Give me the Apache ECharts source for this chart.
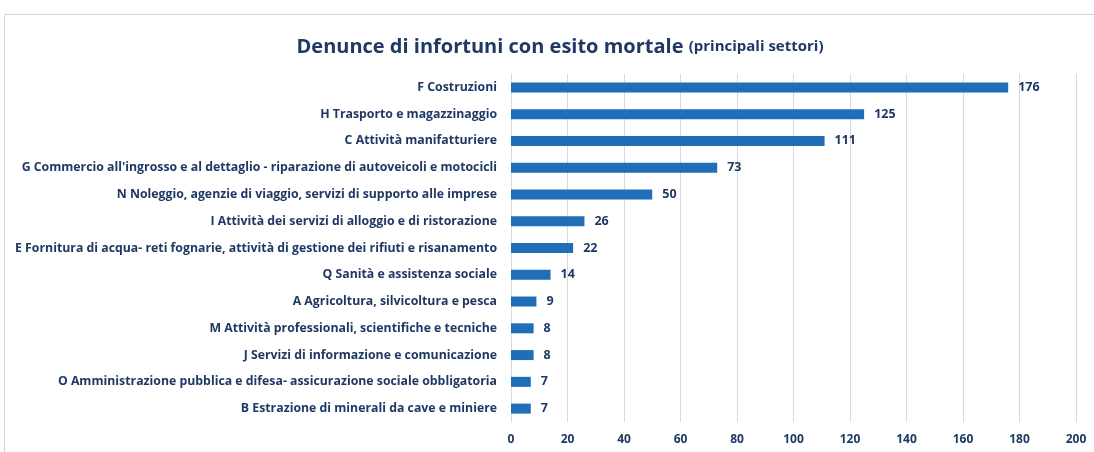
<!DOCTYPE html>
<html>
<head>
<meta charset="utf-8">
<script src="https://cdn.jsdelivr.net/npm/echarts@6/dist/echarts.min.js"></script>
<style>
  html, body { margin: 0; padding: 0; background: #fff; }
  #chart { width: 1094px; height: 452px; }
</style>
</head>
<body>
<div id="chart"></div>
<script>
// settori, dall'alto in basso
const settori = [
  'F Costruzioni',
  'H Trasporto e magazzinaggio',
  'C Attività manifatturiere',
  "G Commercio all'ingrosso e al dettaglio - riparazione di autoveicoli e motocicli",
  'N Noleggio, agenzie di viaggio, servizi di supporto alle imprese',
  'I Attività dei servizi di alloggio e di ristorazione',
  'E Fornitura di acqua- reti fognarie, attività di gestione dei rifiuti e risanamento',
  'Q Sanità e assistenza sociale',
  'A Agricoltura, silvicoltura e pesca',
  'M Attività professionali, scientifiche e tecniche',
  'J Servizi di informazione e comunicazione',
  'O Amministrazione pubblica e difesa- assicurazione sociale obbligatoria',
  'B Estrazione di minerali da cave e miniere'
]
const denunce = [176, 125, 111, 73, 50, 26, 22, 14, 9, 8, 8, 7, 7]

const navy = '#1F3864'
const font = "'Open Sans', 'Noto Sans', sans-serif"

const chart = echarts.init(document.getElementById('chart'))
chart.setOption({
  animation: false,
  textStyle: { fontFamily: font },
  title: {
    text: 'Denunce di infortuni con esito mortale {s|(principali settori)}',
    left: 555,
    textAlign: 'center',
    top: 32,
    textStyle: {
      fontSize: 20,
      fontWeight: 'bold',
      color: navy,
      fontFamily: font,
      rich: {
        s: { fontSize: 15, fontWeight: 'bold', color: navy, fontFamily: font }
      }
    }
  },
  graphic: [{
    type: 'rect',
    shape: { x: 4.5, y: 14.5, width: 1200, height: 600 },
    style: { fill: 'none', stroke: '#d4d4d4', lineWidth: 1 },
    silent: true
  }],
  grid: { left: 511, right: 18, top: 74, bottom: 30 },
  xAxis: {
    type: 'value',
    min: 0,
    max: 200,
    interval: 20,
    axisLine: { show: false },
    axisTick: { show: false },
    splitLine: { lineStyle: { color: '#d9d9d9', width: 1 } },
    axisLabel: { color: navy, fontWeight: 'bold', fontSize: 12, margin: 12, fontFamily: font }
  },
  yAxis: {
    type: 'category',
    inverse: true,
    data: settori,
    axisLine: { show: true, lineStyle: { color: '#d9d9d9' } },
    axisTick: { show: false },
    axisLabel: { color: navy, fontWeight: 'bold', fontSize: 12.3, margin: 14, fontFamily: font }
  },
  series: [{
    type: 'bar',
    data: denunce,
    barWidth: 10,
    itemStyle: { color: '#1E6FB7' },
    label: {
      show: true,
      position: 'right',
      distance: 10,
      color: navy,
      fontWeight: 'bold',
      fontSize: 12.5,
      fontFamily: font
    }
  }]
})
</script>
</body>
</html>
